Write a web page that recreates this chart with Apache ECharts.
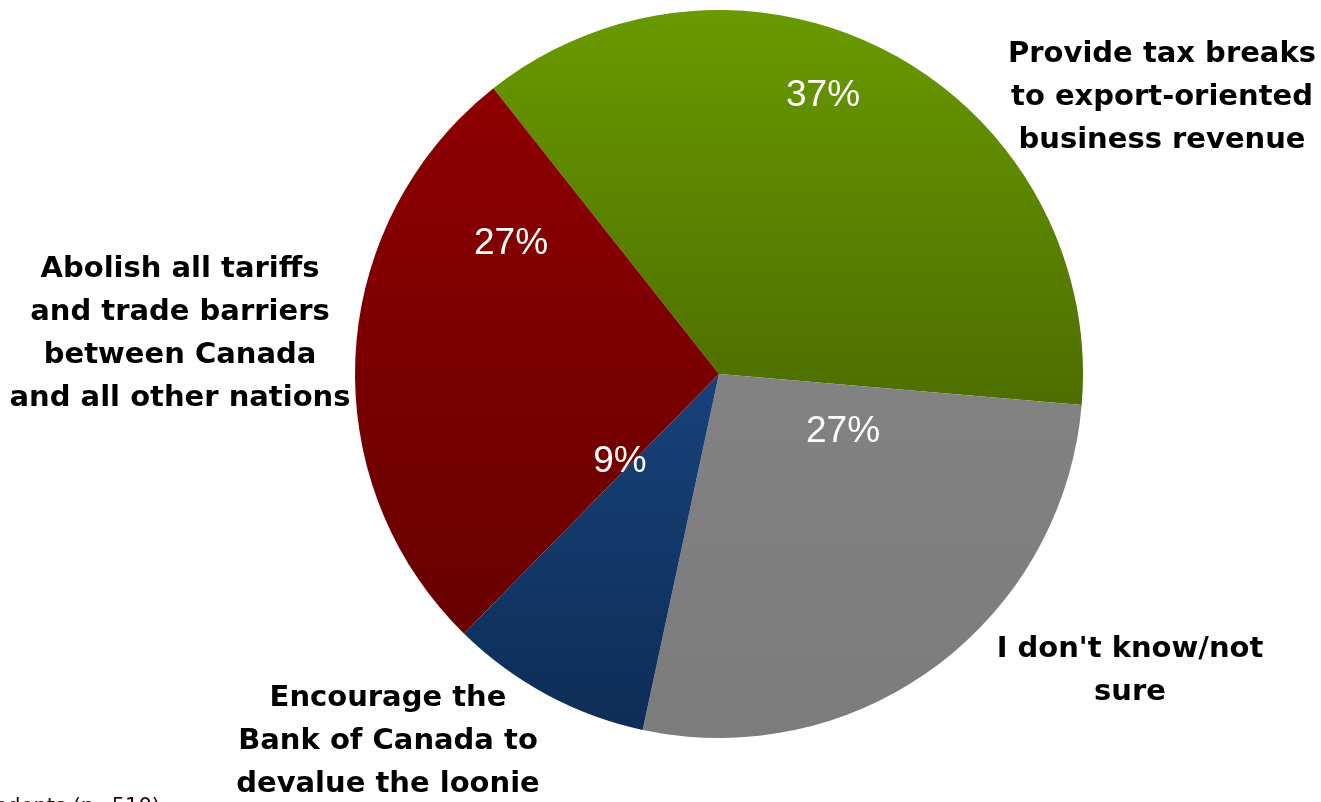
<!DOCTYPE html>
<html>
<head>
<meta charset="utf-8">
<title>Policy preference</title>
<script src="https://cdn.jsdelivr.net/npm/echarts@6/dist/echarts.min.js"></script>
<style>
  html, body { margin: 0; padding: 0; background: #ffffff; }
  #chart { width: 1321px; height: 802px; }
</style>
</head>
<body>
<div id="chart"></div>
<script>
// Answer options, in clockwise order starting from the upper left
const categories = [
  'Provide tax breaks\nto export-oriented\nbusiness revenue',
  "I don't know/not\nsure",
  'Encourage the\nBank of Canada to\ndevalue the loonie',
  'Abolish all tariffs\nand trade barriers\nbetween Canada\nand all other nations'
];
const shares = [37, 27, 9, 27];
const footnote = 'Base: All respondents (n=510)';

// Slice fills: top colour -> bottom colour
const sliceColors = [
  ['#699a00', '#4d6e00'],
  ['#828282', '#7c7c7c'],
  ['#17427a', '#0e2d57'],
  ['#8e0000', '#680000']
];

// Label anchor points (centre of each label block)
const pctPos = [[823, 96], [843, 432], [620, 462], [511, 244]];
const namePos = [[1162, 97], [1130, 671], [388, 741], [180, 334]];

const PCT_FONT = "'Liberation Sans', Arial, sans-serif";
const NAME_FONT = "'DejaVu Sans', sans-serif";

const chart = echarts.init(document.getElementById('chart'), null, { renderer: 'canvas' });

const grad = (c) => new echarts.graphic.LinearGradient(0, 0, 0, 1, [
  { offset: 0, color: c[0] },
  { offset: 1, color: c[1] }
]);

const sliceData = categories.map((name, i) => ({
  name: name,
  value: shares[i],
  itemStyle: { color: grad(sliceColors[i]) }
}));

const common = {
  type: 'pie',
  center: [719, 374],
  radius: [0, 364],
  startAngle: 128.3,
  clockwise: true,
  avoidLabelOverlap: false,
  silent: true,
  animation: false,
  labelLine: { show: false },
  emphasis: { disabled: true }
};

chart.setOption({
  backgroundColor: '#ffffff',
  series: [
    Object.assign({}, common, {
      name: 'share',
      data: sliceData,
      itemStyle: { borderWidth: 0 },
      label: {
        show: true,
        position: 'inside',
        formatter: (p) => p.value + '%',
        color: '#ffffff',
        fontFamily: PCT_FONT,
        fontSize: 37,
        fontWeight: 'normal'
      },
      labelLayout: (p) => ({
        x: pctPos[p.dataIndex][0],
        y: pctPos[p.dataIndex][1],
        align: 'center',
        verticalAlign: 'middle'
      })
    }),
    Object.assign({}, common, {
      name: 'names',
      data: categories.map((name, i) => ({ name: name, value: shares[i] })),
      itemStyle: { color: 'rgba(0,0,0,0)', borderWidth: 0 },
      label: {
        show: true,
        position: 'outside',
        formatter: '{b}',
        color: '#000000',
        fontFamily: NAME_FONT,
        fontSize: 29,
        fontWeight: 'bold',
        lineHeight: 43,
        align: 'center'
      },
      labelLayout: (p) => ({
        x: namePos[p.dataIndex][0],
        y: namePos[p.dataIndex][1],
        align: 'center',
        verticalAlign: 'middle'
      })
    })
  ],
  graphic: [
    {
      type: 'text',
      right: 1321 - 160,
      top: 797,
      style: {
        text: footnote,
        fill: '#2a0808',
        font: "21px 'DejaVu Sans', sans-serif"
      },
      silent: true
    }
  ]
});
</script>
</body>
</html>
